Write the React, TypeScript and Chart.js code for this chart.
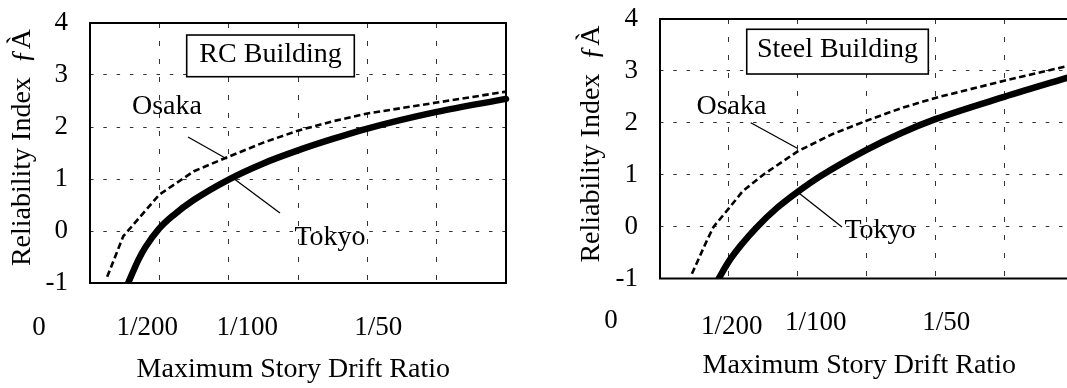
import React, { useEffect, useRef } from 'react';
import { Chart, registerables } from 'chart.js';

Chart.register(...registerables);

const FONT = "'Liberation Serif', 'Times New Roman', Times, serif";
const FS = 28; // annotation / title text
const TICK_FS = 27;

// ---- axis ticks ----
const xMin = 0;
const xMax = 0.03;
const xStep = 0.005;
const yMin = -1;
const yMax = 4;
const xTickValues = [0, 0.005, 0.01, 0.02];
const xTickLabels = ['0', '1/200', '1/100', '1/50'];
const xAxisTitle = 'Maximum Story Drift Ratio';
const yAxisTitle = 'Reliability Index  ƒÀ';

// ---- RC building ----
const rcTokyoX = [0.00275, 0.0035, 0.004, 0.005, 0.006, 0.0075, 0.01, 0.0125, 0.015, 0.0175, 0.02, 0.025, 0.03];
const rcTokyoY = [-1.0, -0.55, -0.31, 0.05, 0.3, 0.6, 0.99, 1.3, 1.55, 1.77, 1.97, 2.29, 2.54];
const rcOsakaX = [0.00124, 0.0024, 0.005, 0.0075, 0.01, 0.0125, 0.015, 0.0175, 0.02, 0.025, 0.03];
const rcOsakaY = [-0.88, -0.1, 0.7, 1.15, 1.43, 1.7, 1.93, 2.11, 2.26, 2.47, 2.68];

// ---- Steel building ----
const stTokyoX = [0.00427, 0.005, 0.006, 0.007, 0.0085, 0.01, 0.0117, 0.015, 0.0175, 0.02, 0.025, 0.03];
const stTokyoY = [-1.0, -0.67, -0.32, -0.02, 0.36, 0.67, 0.98, 1.48, 1.8, 2.07, 2.5, 2.9];
const stOsakaX = [0.00232, 0.00342, 0.0039, 0.005, 0.006, 0.0075, 0.01, 0.0125, 0.015, 0.0175, 0.02, 0.025, 0.03];
const stOsakaY = [-0.91, -0.26, 0.0, 0.35, 0.68, 1.0, 1.45, 1.78, 2.04, 2.28, 2.48, 2.81, 3.12];

const seriesNames = ['Tokyo', 'Osaka'];

type Cfg = {
  width: number;
  left: number;
  right: number;
  top: number;
  bottom: number;
  tokyoX: number[];
  tokyoY: number[];
  osakaX: number[];
  osakaY: number[];
  boxText: string;
  box: [number, number, number, number];
  boxTextPos: [number, number];
  osakaPos: [number, number];
  tokyoPos: [number, number];
  osakaLeader: [number, number, number, number];
  tokyoLeader: [number, number, number, number];
  xLabelDx: number[];
  xLabelDy: number[];
  xTitleDx: number;
  xTitleDy: number;
  yTitleX: number;
  yTitleY: number;
};

const rcCfg: Cfg = {
  width: 540,
  left: 90,
  right: 506,
  top: 23,
  bottom: 283,
  tokyoX: rcTokyoX,
  tokyoY: rcTokyoY,
  osakaX: rcOsakaX,
  osakaY: rcOsakaY,
  boxText: 'RC Building',
  box: [0.006974, 3.769, 0.01906, 2.967],
  boxTextPos: [0.01302, 3.256],
  osakaPos: [0.00555, 2.25],
  tokyoPos: [0.01731, -0.26],
  osakaLeader: [0.00707, 1.808, 0.00988, 1.385],
  tokyoLeader: [0.01031, 1.019, 0.0137, 0.346],
  xLabelDx: [-51, -12, 18.5, 11],
  xLabelDy: [52, 52, 52, 52],
  xTitleDx: -4.7,
  xTitleDy: 94,
  yTitleX: 23,
  yTitleY: 147.5,
};

const steelCfg: Cfg = {
  width: 560,
  left: 120,
  right: 533,
  top: 19,
  bottom: 278.5,
  tokyoX: stTokyoX,
  tokyoY: stTokyoY,
  osakaX: stOsakaX,
  osakaY: stOsakaY,
  boxText: 'Steel Building',
  box: [0.0063, 3.802, 0.01949, 2.94],
  boxTextPos: [0.01289, 3.274],
  osakaPos: [0.00519, 2.17],
  tokyoPos: [0.01598, -0.22],
  osakaLeader: [0.00659, 2.002, 0.00997, 1.509],
  tokyoLeader: [0.00997, 0.672, 0.01322, -0.008],
  xLabelDx: [-49, 3, 18, 11],
  xLabelDy: [49.5, 55.5, 51.5, 51.5],
  xTitleDx: -7.3,
  xTitleDy: 94.8,
  yTitleX: 51.7,
  yTitleY: 144,
};

const H = 388;

function buildChart(canvas: HTMLCanvasElement, cfg: Cfg) {
  const toPts = (xs: number[], ys: number[]) => xs.map((x, i) => ({ x, y: ys[i] }));

  const plugin = {
    id: 'decor',
    beforeDatasetsDraw(chart: any) {
      const { ctx, chartArea: a } = chart;
      ctx.save();
      ctx.strokeStyle = '#000';
      ctx.lineWidth = 2;
      ctx.setLineDash([]);
      ctx.strokeRect(a.left, a.top, a.right - a.left, a.bottom - a.top);
      ctx.restore();
    },
    afterDatasetsDraw(chart: any) {
      const { ctx, chartArea: a } = chart;
      const xs = chart.scales.x;
      const ys = chart.scales.y;
      const px = (v: number) => xs.getPixelForValue(v);
      const py = (v: number) => ys.getPixelForValue(v);
      ctx.save();
      ctx.setLineDash([]);
      ctx.fillStyle = '#000';
      ctx.strokeStyle = '#000';
      ctx.font = `${FS}px ${FONT}`;
      ctx.textBaseline = 'alphabetic';
      ctx.textAlign = 'center';

      const [bx0, by0, bx1, by1] = cfg.box;
      ctx.fillStyle = '#fff';
      ctx.fillRect(px(bx0), py(by0), px(bx1) - px(bx0), py(by1) - py(by0));
      ctx.lineWidth = 1.6;
      ctx.strokeRect(px(bx0), py(by0), px(bx1) - px(bx0), py(by1) - py(by0));
      ctx.fillStyle = '#000';
      ctx.fillText(cfg.boxText, px(cfg.boxTextPos[0]), py(cfg.boxTextPos[1]));

      ctx.fillText(seriesNames[1], px(cfg.osakaPos[0]), py(cfg.osakaPos[1]));
      ctx.fillText(seriesNames[0], px(cfg.tokyoPos[0]), py(cfg.tokyoPos[1]));

      ctx.lineWidth = 1.3;
      for (const l of [cfg.osakaLeader, cfg.tokyoLeader]) {
        ctx.beginPath();
        ctx.moveTo(px(l[0]), py(l[1]));
        ctx.lineTo(px(l[2]), py(l[3]));
        ctx.stroke();
      }

      ctx.font = `${TICK_FS}px ${FONT}`;
      xTickValues.forEach((v, i) => {
        ctx.fillText(xTickLabels[i], px(v) + cfg.xLabelDx[i], a.bottom + cfg.xLabelDy[i]);
      });

      ctx.font = `${FS}px ${FONT}`;
      ctx.fillText(xAxisTitle, (a.left + a.right) / 2 + cfg.xTitleDx, a.bottom + cfg.xTitleDy);

      ctx.save();
      ctx.translate(cfg.yTitleX, cfg.yTitleY);
      ctx.rotate(-Math.PI / 2);
      ctx.textBaseline = 'middle';
      ctx.fillText(yAxisTitle, 0, 0);
      ctx.restore();

      ctx.restore();
    },
  };

  return new Chart(canvas, {
    type: 'line',
    data: {
      datasets: [
        {
          label: seriesNames[1],
          data: toPts(cfg.osakaX, cfg.osakaY),
          borderColor: '#000',
          borderWidth: 2.6,
          borderDash: [6.5, 3.5],
          pointRadius: 0,
          tension: 0,
          fill: false,
          clip: { left: 0, top: 0, right: 6, bottom: 0 },
        } as any,
        {
          label: seriesNames[0],
          data: toPts(cfg.tokyoX, cfg.tokyoY),
          borderColor: '#000',
          borderWidth: 6.5,
          borderCapStyle: 'round',
          borderJoinStyle: 'round',
          pointRadius: 0,
          cubicInterpolationMode: 'monotone',
          fill: false,
          clip: { left: 0, top: 0, right: 6, bottom: 0 },
        } as any,
      ],
    },
    options: {
      animation: false,
      responsive: false,
      devicePixelRatio: 1,
      events: [],
      layout: {
        padding: { left: 0, top: cfg.top, right: cfg.width - cfg.right, bottom: 0 },
      },
      plugins: {
        legend: { display: false },
        tooltip: { enabled: false },
        title: { display: false },
      },
      scales: {
        x: {
          type: 'linear',
          min: xMin,
          max: xMax,
          ticks: { display: false, stepSize: xStep },
          grid: { color: '#333', lineWidth: 1, drawTicks: false },
          border: { display: false, dash: [5, 13] },
          afterFit: (s: any) => {
            s.height = H - cfg.bottom;
            s.paddingLeft = 0;
            s.paddingRight = 0;
          },
        },
        y: {
          type: 'linear',
          min: yMin,
          max: yMax,
          ticks: {
            stepSize: 1,
            padding: 22,
            color: '#000',
            font: { family: FONT, size: TICK_FS },
          },
          grid: { color: '#333', lineWidth: 1, drawTicks: false },
          border: { display: false, dash: [3.5, 9.8] },
          afterFit: (s: any) => {
            s.width = cfg.left;
            s.paddingTop = 0;
            s.paddingBottom = 0;
          },
        },
      },
    } as any,
    plugins: [plugin],
  });
}

function Panel({ cfg, x }: { cfg: Cfg; x: number }) {
  const ref = useRef<HTMLCanvasElement | null>(null);
  useEffect(() => {
    if (!ref.current) return;
    const c = buildChart(ref.current, cfg);
    return () => c.destroy();
  }, [cfg]);
  return (
    <canvas
      ref={ref}
      width={cfg.width}
      height={H}
      style={{ position: 'absolute', left: x, top: 0, width: cfg.width, height: H }}
    />
  );
}

export default function App() {
  return (
    <div
      style={{
        position: 'fixed',
        left: 0,
        top: 0,
        width: 1067,
        height: H,
        overflow: 'hidden',
        background: '#fff',
      }}
    >
      <Panel cfg={rcCfg} x={0} />
      <Panel cfg={steelCfg} x={540} />
    </div>
  );
}
